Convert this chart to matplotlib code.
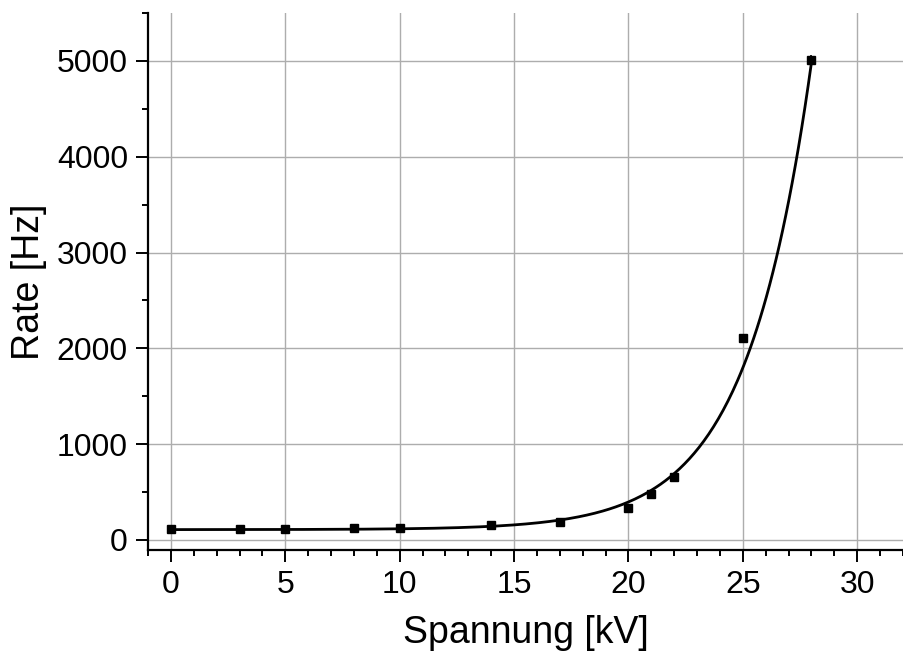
import matplotlib
matplotlib.use("Agg")
import matplotlib.pyplot as plt
from matplotlib.ticker import MultipleLocator
import numpy as np

plt.rcParams['font.family'] = ['Liberation Sans', 'DejaVu Sans']

# measured count rates
spannung = [0, 3, 5, 8, 10, 14, 17, 20, 21, 22, 25, 28]
rate = [115, 112, 112, 125, 125, 155, 190, 334, 485, 658, 2105, 5010]
rate_err = [3, 3, 3, 4, 4, 4, 5, 6, 7, 9, 15, 50]

# exponential fit  y = y0 + A1*exp(x/t1)
y0 = 108.0
A1 = 0.246
t1 = 2.83

ticksize = 23
labelsize = 27

fig = plt.figure(figsize=(9.04, 6.55), dpi=100)
ax = fig.add_axes([0.1638, 0.161, 0.835, 0.819])

xfit = np.linspace(spannung[0], spannung[-1], 400)
yfit = y0 + A1 * np.exp(xfit / t1)
ax.plot(xfit, yfit, c='k', lw=2.0, zorder=3)
ax.errorbar(spannung, rate, yerr=rate_err, fmt='s', ms=5.5, mfc='k', mec='k',
            ecolor='k', elinewidth=1.2, capsize=0, zorder=4)

ax.set_xlim(-1, 32)
ax.set_ylim(-100, 5500)
ax.xaxis.set_major_locator(MultipleLocator(5))
ax.xaxis.set_minor_locator(MultipleLocator(1))
ax.yaxis.set_major_locator(MultipleLocator(1000))
ax.yaxis.set_minor_locator(MultipleLocator(500))
ax.grid(True, which='major', color='#adadad', lw=1.0)
ax.set_axisbelow(True)

for s in ['top', 'right']:
    ax.spines[s].set_visible(False)
for s in ['left', 'bottom']:
    ax.spines[s].set_linewidth(1.6)

ax.tick_params(which='major', direction='out', length=8.5, width=1.4,
               labelsize=ticksize, pad=6)
ax.tick_params(which='minor', direction='out', length=4.5, width=1.4)

ax.set_xlabel("Spannung [kV]", fontsize=labelsize, labelpad=11)
ax.set_ylabel("Rate [Hz]", fontsize=labelsize, labelpad=7)

fig.savefig("out.png", dpi=100)
